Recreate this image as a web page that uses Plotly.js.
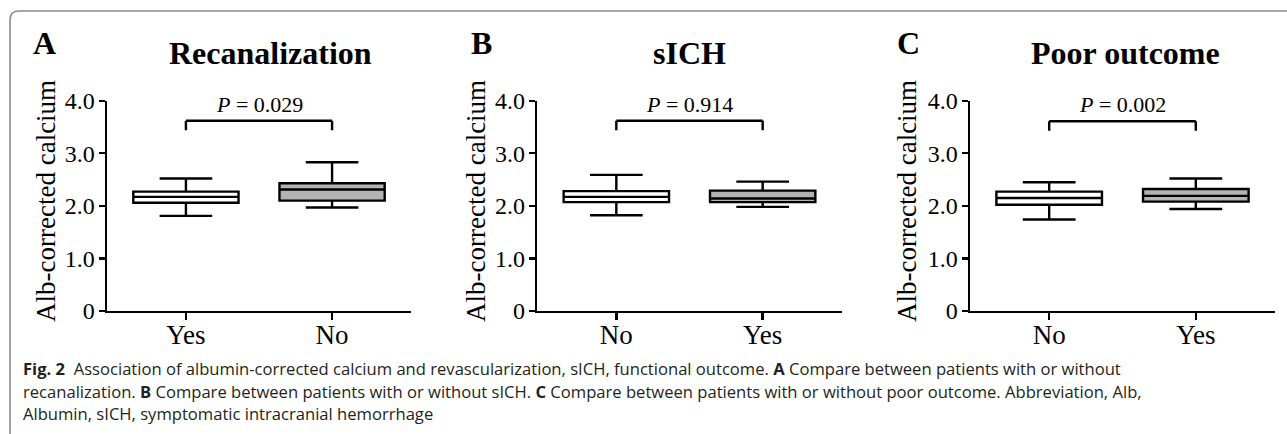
<!DOCTYPE html>
<html>
<head>
<meta charset="utf-8">
<script src="https://cdn.plot.ly/plotly-3.0.1.min.js"></script>
<style>
html,body{margin:0;padding:0;background:#fff;}
#chart{width:1287px;height:434px;}
</style>
</head>
<body>
<div id="chart"></div>
<script>
// ---- data ----
const panelTitles = ['Recanalization', 'sICH', 'Poor outcome'];
const panelLetters = ['A', 'B', 'C'];
const yAxisTitle = 'Alb-corrected calcium';
const yTickVals = [0, 1, 2, 3, 4];
const yTickText = ['0', '1.0', '2.0', '3.0', '4.0'];

const catsA = ['Yes', 'No'];
const q1A = [2.06, 2.10];
const medA = [2.17, 2.31];
const q3A = [2.27, 2.43];
const loA = [1.81, 1.97];
const hiA = [2.52, 2.83];

const catsB = ['No', 'Yes'];
const q1B = [2.07, 2.07];
const medB = [2.17, 2.14];
const q3B = [2.28, 2.29];
const loB = [1.82, 1.98];
const hiB = [2.59, 2.46];

const catsC = ['No', 'Yes'];
const q1C = [2.02, 2.08];
const medC = [2.15, 2.19];
const q3C = [2.27, 2.32];
const loC = [1.74, 1.94];
const hiC = [2.45, 2.52];

const pValues = ['0.029', '0.914', '0.002'];
const bracketTop = [3.62, 3.62, 3.61];
const bracketEnd = [3.44, 3.44, 3.43];
const pTextY = [3.93, 3.93, 3.93];

const captionLines = [
  '<b>Fig. 2</b>  Association of albumin-corrected calcium and revascularization, sICH, functional outcome. <b>A</b> Compare between patients with or without',
  'recanalization. <b>B</b> Compare between patients with or without sICH. <b>C</b> Compare between patients with or without poor outcome. Abbreviation, Alb,',
  'Albumin, sICH, symptomatic intracranial hemorrhage'
];

// ---- layout helpers ----
const W = 1287, H = 434;
const fx = p => p / W;
const fy = p => 1 - p / H;

const boxFills = ['#ffffff', '#b3b3b3'];
const serif = 'Liberation Serif, Times New Roman, serif';

const cats = [catsA, catsB, catsC];
const q1s = [q1A, q1B, q1C];
const meds = [medA, medB, medC];
const q3s = [q3A, q3B, q3C];
const los = [loA, loB, loC];
const his = [hiA, hiB, hiC];

// pixel geometry of each panel
const axLeft = [107, 537.3, 970];
const axRight = [411, 841.7, 1275];
const axTop = 100.7, axBottom = 311;
const titleX = [270.5, 689.7, 1125.5];
const letterX = [44, 481, 909];
const yTitleX = [46, 476, 907];

const traces = [];
const layout = {
  width: W, height: H,
  margin: {l: 0, r: 0, t: 0, b: 0},
  paper_bgcolor: '#ffffff',
  plot_bgcolor: 'rgba(0,0,0,0)',
  showlegend: false,
  boxmode: 'overlay',
  annotations: [],
  shapes: []
};

for (let p = 0; p < 3; p++) {
  const xa = p === 0 ? 'x' : 'x' + (p + 1);
  const ya = p === 0 ? 'y' : 'y' + (p + 1);
  for (let i = 0; i < 2; i++) {
    traces.push({
      type: 'box',
      xaxis: xa, yaxis: ya,
      x: [cats[p][i]],
      q1: [q1s[p][i]], median: [meds[p][i]], q3: [q3s[p][i]],
      lowerfence: [los[p][i]], upperfence: [his[p][i]],
      boxpoints: false,
      width: 0.72,
      whiskerwidth: 0.5,
      fillcolor: boxFills[i],
      line: {color: '#000000', width: 2.4},
      hoverinfo: 'skip'
    });
  }
  const xKey = p === 0 ? 'xaxis' : 'xaxis' + (p + 1);
  const yKey = p === 0 ? 'yaxis' : 'yaxis' + (p + 1);
  layout[xKey] = {
    domain: [fx(axLeft[p]), fx(axRight[p])],
    anchor: ya,
    type: 'category',
    categoryorder: 'array',
    categoryarray: cats[p],
    range: [-0.54, 1.54],
    showline: true, linecolor: '#000', linewidth: 2.4,
    ticks: 'outside', ticklen: 7, tickwidth: 2.4, tickcolor: '#000',
    ticklabelstandoff: -9,
    showgrid: false, zeroline: false,
    tickfont: {family: serif, size: 27, color: '#000'},
    fixedrange: true
  };
  layout[yKey] = {
    domain: [fy(axBottom), fy(axTop)],
    anchor: xa,
    range: [0, 4],
    tickvals: yTickVals, ticktext: yTickText,
    showline: true, linecolor: '#000', linewidth: 2.4,
    ticks: 'outside', ticklen: 6, tickwidth: 2.4, tickcolor: '#000',
    ticklabelstandoff: -1,
    showgrid: false, zeroline: false,
    tickfont: {family: serif, size: 24, color: '#000'},
    fixedrange: true
  };
  // bracket
  const bl = {color: '#000', width: 2.4};
  layout.shapes.push({type: 'line', xref: xa, yref: ya, x0: 0, x1: 1, y0: bracketTop[p], y1: bracketTop[p], line: bl});
  layout.shapes.push({type: 'line', xref: xa, yref: ya, x0: 0, x1: 0, y0: bracketEnd[p], y1: bracketTop[p], line: bl});
  layout.shapes.push({type: 'line', xref: xa, yref: ya, x0: 1, x1: 1, y0: bracketEnd[p], y1: bracketTop[p], line: bl});
  // p-value
  layout.annotations.push({
    xref: xa, yref: ya, x: 0.5, y: pTextY[p],
    text: '<i>P</i> = ' + pValues[p], showarrow: false,
    font: {family: serif, size: 22, color: '#000'},
    xanchor: 'center', yanchor: 'middle'
  });
  // panel title
  layout.annotations.push({
    xref: 'paper', yref: 'paper', x: fx(titleX[p]), y: fy(53),
    text: '<b>' + panelTitles[p] + '</b>', showarrow: false,
    font: {family: serif, size: 32, color: '#000'},
    xanchor: 'center', yanchor: 'middle'
  });
  // panel letter
  layout.annotations.push({
    xref: 'paper', yref: 'paper', x: fx(letterX[p]), y: fy(43),
    text: '<b>' + panelLetters[p] + '</b>', showarrow: false,
    font: {family: serif, size: 32, color: '#000'},
    xanchor: 'center', yanchor: 'middle'
  });
  // y axis title
  layout.annotations.push({
    xref: 'paper', yref: 'paper', x: fx(yTitleX[p]), y: fy(201),
    text: yAxisTitle, showarrow: false, textangle: -90,
    font: {family: serif, size: 27, color: '#000'},
    xanchor: 'center', yanchor: 'middle'
  });
}

// caption
const captionY = [368, 391, 413];
captionLines.forEach((t, i) => {
  layout.annotations.push({
    xref: 'paper', yref: 'paper', x: fx(21), y: fy(captionY[i]),
    text: t, showarrow: false,
    font: {family: 'Open Sans, sans-serif', size: 16.6, color: '#231f20'},
    xanchor: 'left', yanchor: 'middle', align: 'left'
  });
});

// frame: left side + rounded corner + top
layout.shapes.push({
  type: 'path', xref: 'paper', yref: 'paper',
  path: 'M ' + fx(10) + ',' + fy(440) + ' L ' + fx(10) + ',' + fy(20) +
        ' Q ' + fx(10) + ',' + fy(11) + ' ' + fx(19) + ',' + fy(11) +
        ' L ' + fx(1290) + ',' + fy(11),
  line: {color: '#8c8c8c', width: 1.6}
});

Plotly.newPlot('chart', traces, layout, {displayModeBar: false, staticPlot: true});
</script>
</body>
</html>
